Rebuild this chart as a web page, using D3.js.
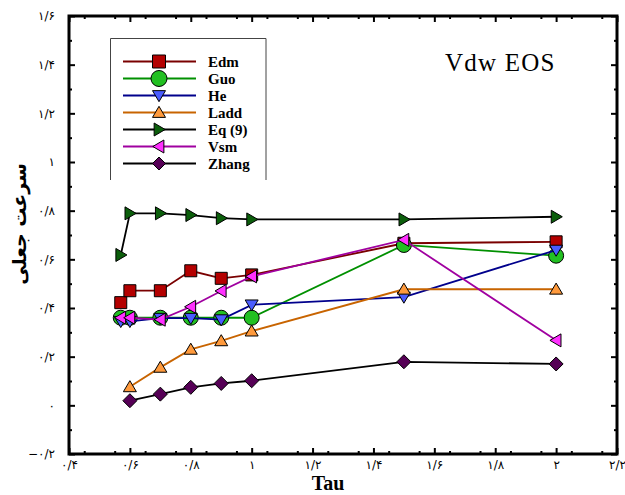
<!DOCTYPE html>
<html>
<head>
<meta charset="utf-8">
<script src="https://cdn.jsdelivr.net/npm/d3@7/dist/d3.min.js"></script>
<style>
  html, body { margin: 0; padding: 0; background: #fff; }
  svg { display: block; }
</style>
</head>
<body>
<svg id="chart" width="625" height="495"></svg>
<script>
// Tau values for each measured point
const tauAll  = [0.57, 0.6, 0.7, 0.8, 0.9, 1.0, 1.5, 2.0];
const tauFrom6 = [0.6, 0.7, 0.8, 0.9, 1.0, 1.5, 2.0];

// Series values (pseudo speed of sound)
const edm   = [0.422, 0.471, 0.471, 0.553, 0.522, 0.536, 0.666, 0.672];
const guo   = [0.360, 0.360, 0.360, 0.360, 0.360, 0.360, 0.659, 0.615];
const he    = [0.345, 0.345, 0.358, 0.358, 0.352, 0.413, 0.445, 0.638];
const ladd  = [0.076, 0.156, 0.230, 0.265, 0.305, 0.477, 0.477];
const eq9   = [0.618, 0.789, 0.789, 0.782, 0.769, 0.764, 0.764, 0.775];
const vsm   = [0.360, 0.360, 0.352, 0.405, 0.470, 0.530, 0.680, 0.267];
const zhang = [0.019, 0.046, 0.074, 0.090, 0.101, 0.179, 0.170];

const seriesNames = ["Edm", "Guo", "He", "Ladd", "Eq (9)", "Vsm", "Zhang"];

// Axis ticks
const xTicks = [0.4, 0.6, 0.8, 1.0, 1.2, 1.4, 1.6, 1.8, 2.0, 2.2];
const yTicks = [-0.2, 0, 0.2, 0.4, 0.6, 0.8, 1.0, 1.2, 1.4, 1.6];

const series = [
  { name: seriesNames[0], tau: tauAll,   val: edm,   line: "#7a0000", fill: "#b40000", shape: "square" },
  { name: seriesNames[1], tau: tauAll,   val: guo,   line: "#009000", fill: "#22c022", shape: "circle" },
  { name: seriesNames[2], tau: tauAll,   val: he,    line: "#00008c", fill: "#4a5cff", shape: "down" },
  { name: seriesNames[3], tau: tauFrom6, val: ladd,  line: "#c86400", fill: "#ff9a3c", shape: "up" },
  { name: seriesNames[4], tau: tauAll,   val: eq9,   line: "#000000", fill: "#0b5e0b", shape: "right" },
  { name: seriesNames[5], tau: tauAll,   val: vsm,   line: "#a000a0", fill: "#ff30ff", shape: "left" },
  { name: seriesNames[6], tau: tauFrom6, val: zhang, line: "#000000", fill: "#560056", shape: "diamond" }
];

const svg = d3.select("#chart");
const L = 69, R = 617, T = 16, B = 454;

const x = d3.scaleLinear().domain([0.4, 2.2]).range([L, R]);
const y = d3.scaleLinear().domain([-0.2, 1.6]).range([B, T]);

// Persian digits with "/" as decimal separator
const faDigits = "۰۱۲۳۴۵۶۷۸۹";
const fmt = d3.format("~g");
function fa(v) {
  const s = fmt(+v.toFixed(2));
  return s.replace(/[0-9]/g, d => faDigits[+d]).replace(".", "/");
}

// Marker path generator centred on (0,0)
function markerPath(shape, s) {
  const h = s / 2;
  switch (shape) {
    case "square":  return `M${-h},${-h}H${h}V${h}H${-h}Z`;
    case "circle":  return d3.symbol(d3.symbolCircle, Math.PI * h * h)();
    case "down":    return `M${-h},${-h * 0.75}H${h}L0,${h * 0.95}Z`;
    case "up":      return `M${-h},${h * 0.75}H${h}L0,${-h * 0.95}Z`;
    case "right":   return `M${-h * 0.75},${-h}V${h}L${h * 0.95},0Z`;
    case "left":    return `M${h * 0.75},${-h}V${h}L${-h * 0.95},0Z`;
    case "diamond": return `M0,${-h}L${h},0L0,${h}L${-h},0Z`;
  }
}
const markerSize = { square: 12, circle: 15, down: 13, up: 13, right: 13, left: 13, diamond: 14 };

// Minor ticks
const xMinor = d3.range(0.45, 2.2, 0.1).map(v => +v.toFixed(2));
const yMinor = d3.range(-0.1, 1.6, 0.2).map(v => +v.toFixed(2));

const axisG = svg.append("g").attr("class", "axes");

// bottom axis
axisG.append("g").attr("transform", `translate(0,${B})`)
  .call(d3.axisBottom(x).tickValues(xTicks).tickSize(-6).tickPadding(6).tickFormat(fa));
// top axis
axisG.append("g").attr("transform", `translate(0,${T})`)
  .call(d3.axisTop(x).tickValues(xTicks).tickSize(-6).tickFormat(""));
// left axis
axisG.append("g").attr("transform", `translate(${L},0)`)
  .call(d3.axisLeft(y).tickValues(yTicks).tickSize(-6).tickPadding(14).tickFormat(fa));
// right axis
axisG.append("g").attr("transform", `translate(${R},0)`)
  .call(d3.axisRight(y).tickValues(yTicks).tickSize(-6).tickFormat(""));

// minor ticks
axisG.append("g").attr("transform", `translate(0,${B})`)
  .call(d3.axisBottom(x).tickValues(xMinor).tickSize(-3).tickFormat(""));
axisG.append("g").attr("transform", `translate(0,${T})`)
  .call(d3.axisTop(x).tickValues(xMinor).tickSize(-3).tickFormat(""));
axisG.append("g").attr("transform", `translate(${L},0)`)
  .call(d3.axisLeft(y).tickValues(yMinor).tickSize(-3).tickFormat(""));
axisG.append("g").attr("transform", `translate(${R},0)`)
  .call(d3.axisRight(y).tickValues(yMinor).tickSize(-3).tickFormat(""));

axisG.selectAll(".domain").remove();
axisG.selectAll(".tick line").attr("stroke", "#000").attr("stroke-width", 2);
axisG.selectAll(".tick text")
  .attr("font-family", "DejaVu Sans, sans-serif")
  .attr("font-size", 12)
  .attr("fill", "#000")
  .attr("direction", "ltr");

// frame
svg.append("rect")
  .attr("x", L).attr("y", T)
  .attr("width", R - L).attr("height", B - T)
  .attr("fill", "none").attr("stroke", "#000").attr("stroke-width", 3);

// series lines and markers
const line = d3.line().x(d => x(d[0])).y(d => y(d[1]));
const plot = svg.append("g");
series.forEach(s => {
  const pts = s.tau.map((t, i) => [t, s.val[i]]);
  plot.append("path")
    .attr("d", line(pts))
    .attr("fill", "none")
    .attr("stroke", s.line)
    .attr("stroke-width", 1.8);
  plot.selectAll(null).data(pts).enter().append("path")
    .attr("transform", d => `translate(${x(d[0])},${y(d[1])})`)
    .attr("d", markerPath(s.shape, markerSize[s.shape]))
    .attr("fill", s.fill)
    .attr("stroke", "#000")
    .attr("stroke-width", 1);
});

// legend
const lg = svg.append("g");
lg.append("path")
  .attr("d", "M110.5,180V38.5H266V180")
  .attr("fill", "none").attr("stroke", "#444").attr("stroke-width", 1);
series.forEach((s, i) => {
  const ly = 61.5 + i * 17;
  lg.append("line").attr("x1", 123).attr("x2", 196).attr("y1", ly).attr("y2", ly)
    .attr("stroke", s.line).attr("stroke-width", 1.8);
  lg.append("path")
    .attr("transform", `translate(159,${ly})`)
    .attr("d", markerPath(s.shape, s.shape === "circle" ? 16 : 13))
    .attr("fill", s.fill).attr("stroke", "#000").attr("stroke-width", 1);
  lg.append("text").attr("x", 208).attr("y", ly + 5)
    .attr("font-family", "Liberation Serif, serif")
    .attr("font-weight", "bold").attr("font-size", 15)
    .text(s.name);
});

// annotation
svg.append("text").attr("x", 445).attr("y", 71)
  .attr("font-family", "Liberation Serif, serif")
  .attr("font-size", 25)
  .attr("letter-spacing", 1.2)
  .text("Vdw EOS");

// axis titles
svg.append("text").attr("x", 328).attr("y", 490)
  .attr("text-anchor", "middle")
  .attr("font-family", "Liberation Serif, serif")
  .attr("font-weight", "bold").attr("font-size", 20)
  .text("Tau");

svg.append("text")
  .attr("transform", "translate(26,224) rotate(-90)")
  .attr("text-anchor", "middle")
  .attr("font-family", "DejaVu Sans, sans-serif")
  .attr("font-weight", "bold").attr("font-size", 19)
  .text("سرعت جعلی");
</script>
</body>
</html>
